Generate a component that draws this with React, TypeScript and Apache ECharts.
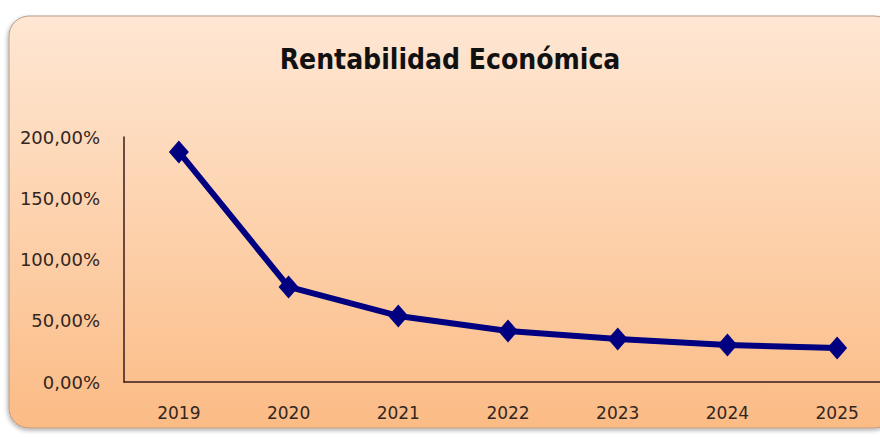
import React, { useEffect, useRef } from "react";
import * as echarts from "echarts";

const categories = ["2019", "2020", "2021", "2022", "2023", "2024", "2025"];
const rentabilidad = [187.8, 77.6, 53.9, 41.6, 35.1, 30.2, 27.8];
const titleText = "Rentabilidad Económica";

export default function App() {
  const ref = useRef<HTMLDivElement>(null);
  useEffect(() => {
    document.body.style.margin = "0";
    document.body.style.overflow = "hidden";
    if (!ref.current) return;
    const chart = echarts.init(ref.current, null, { renderer: "svg" });
    chart.setOption({
      animation: false,
      backgroundColor: "#ffffff",
      graphic: [
        {
          type: "rect",
          z: -10,
          silent: true,
          shape: { x: 9, y: 16, width: 885, height: 412, r: 20 },
          style: {
            fill: {
              type: "linear",
              x: 0,
              y: 0,
              x2: 0,
              y2: 1,
              colorStops: [
                { offset: 0, color: "#fee7d4" },
                { offset: 0.5, color: "#fdd2ad" },
                { offset: 1, color: "#fbbb85" },
              ],
            },
            stroke: "#b99c86",
            lineWidth: 1,
            shadowBlur: 4,
            shadowOffsetX: -1,
            shadowOffsetY: 2,
            shadowColor: "rgba(0,0,0,0.3)",
          },
        },
      ],
      title: {
        text: titleText,
        left: 445,
        textAlign: "center",
        top: 40,
        textStyle: {
          fontFamily: "'Liberation Sans Narrow', 'DejaVu Sans Condensed', Lato, sans-serif",
          fontWeight: "bold",
          fontSize: 28,
          color: "#111111",
        },
      },
      grid: { left: 124, top: 137, bottom: 55, right: 0 },
      xAxis: {
        type: "category",
        data: categories,
        boundaryGap: true,
        axisLine: { lineStyle: { color: "#3b1a1a", width: 1.5 } },
        axisTick: { show: false },
        axisLabel: {
          margin: 22,
          fontFamily: "'DejaVu Sans', sans-serif",
          fontSize: 17,
          color: "#33261f",
        },
        splitLine: { show: false },
      },
      yAxis: {
        type: "value",
        min: 0,
        max: 200,
        interval: 50,
        axisLine: { show: true, lineStyle: { color: "#3b1a1a", width: 1.5 } },
        axisTick: { show: false },
        splitLine: { show: false },
        axisLabel: {
          margin: 24,
          fontFamily: "'DejaVu Sans', sans-serif",
          fontSize: 18,
          color: "#33261f",
          formatter: (v: number) => v.toFixed(2).replace(".", ",") + "%",
        },
      },
      series: [
        {
          type: "line",
          data: rentabilidad,
          symbol: "diamond",
          symbolSize: [20, 23],
          lineStyle: { color: "#000080", width: 6 },
          itemStyle: { color: "#000080" },
        },
      ],
    });
    return () => chart.dispose();
  }, []);
  return <div ref={ref} style={{ width: 892, height: 437 }} />;
}
